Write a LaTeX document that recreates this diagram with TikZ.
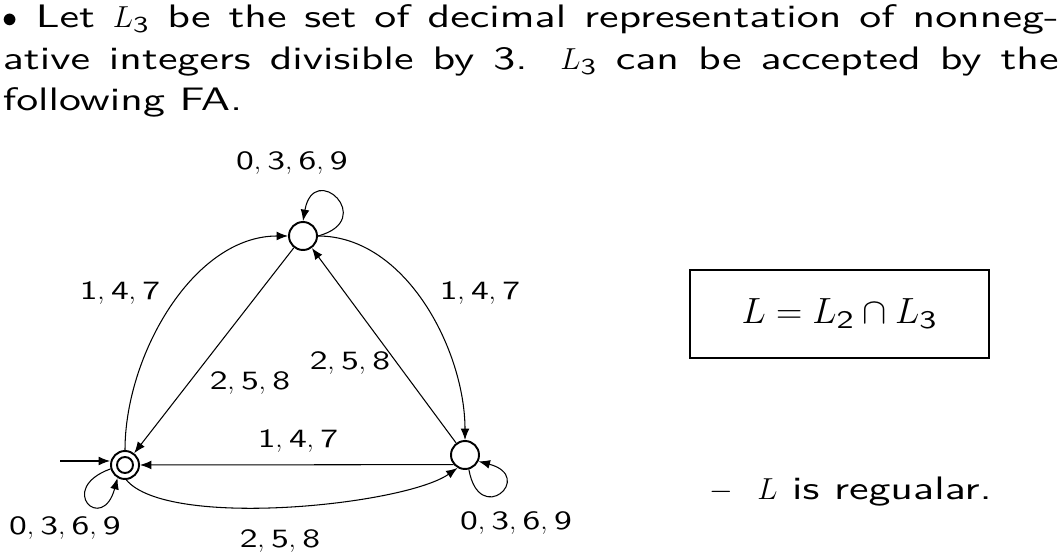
\documentclass[tikz,border=0pt]{standalone}
\usepackage{amsmath}
\usepackage{fontspec}
\setsansfont{lmsans10-regular.otf}[FakeStretch = 1.35]
\renewcommand{\familydefault}{\sfdefault}
\usetikzlibrary{arrows.meta}

\newcommand{\dsep}{$,$\hspace{0.25em}}

\begin{document}
\begin{tikzpicture}[x = 0.02cm, y = 0.02cm,
    font = \fontsize{18.5}{23.6}\selectfont,
    >= {Latex[length = 6.5pt, width = 5pt]},
    state/.style = {circle, draw, line width = 1.1pt, minimum size = 0.56cm, inner sep = 0pt},
    ring/.style = {line width = 1.1pt},
    edge/.style = {->, line width = 0.6pt},
    lab/.style = {anchor = base, inner sep = 0pt, font = \fontsize{15}{18}\selectfont}]
    \useasboundingbox (0,0) rectangle (1064,557);
    % text above the automaton
    \node[anchor = base west, text width = 21.12cm, align = justify, inner sep = 0pt] (intro) at (2.5,529)
        {$\bullet$ Let $L_{\text{3}}$ be the set of decimal representation of nonneg-\linebreak
         ative integers divisible by 3. $L_{\text{3}}$ can be accepted by the\linebreak
         following FA.};
    % states
    \node[state] (q0) at (125,92) {};
    \node[state] (q1) at (303,321) {};
    \node[state] (q2) at (465,102) {};
    \draw[ring] (q0.center) circle (8);
    \coordinate (init) at (60,96);
    % transitions
    \draw[edge] (init) -- (init -| q0.west);
    \draw[edge] (q0.195) to[out = 200, in = 255, looseness = 13] (q0.240);
    \draw[edge] (q0) to[out = 90, in = 180, looseness = 0.9] (q1);
    \draw[edge] (q1) -- (q0);
    \draw[edge] (q2) -- (q1);
    \draw[edge] (q1) to[out = 0, in = 90, looseness = 0.9] (q2);
    \draw[edge] (q2.-140) -- (q0);
    \draw[edge] (q0.-85) to[out = -50, in = 215, looseness = 0.5] (q2.-120);
    \draw[edge] (q2.-75) to[out = -80, in = -15, looseness = 12] (q2.-25);
    \draw[edge] (q1.0) to[out = 15, in = 80, looseness = 7.5] (q1.90);
    % labels
    \node[lab] (lab11) at (292,387) {0\dsep 3\dsep 6\dsep 9};
    \node[lab] (lab01) at (120,257) {1\dsep 4\dsep 7};
    \node[lab] (lab10) at (250,167) {2\dsep 5\dsep 8};
    \node[lab] (lab21) at (350,187) {2\dsep 5\dsep 8};
    \node[lab] (lab12) at (480,257) {1\dsep 4\dsep 7};
    \node[lab] (lab20) at (298,109) {1\dsep 4\dsep 7};
    \node[lab] (lab00) at (65,22) {0\dsep 3\dsep 6\dsep 9};
    \node[lab] (lab02) at (280,9) {2\dsep 5\dsep 8};
    \node[lab] (lab22) at (516,27) {0\dsep 3\dsep 6\dsep 9};
    % the language
    \node[draw, line width = 0.8pt, minimum width = 5.98cm, minimum height = 1.76cm,
        font = \fontsize{20.5}{24}\selectfont] (eqbox) at (839.5,243)
        {$L = L_{\text{2}} \cap L_{\text{3}}$};
    \node[anchor = base west, inner sep = 0pt] (regular) at (709,57) {$-$\hspace{0.75em}$L$ is regualar.};
\end{tikzpicture}
\end{document}
